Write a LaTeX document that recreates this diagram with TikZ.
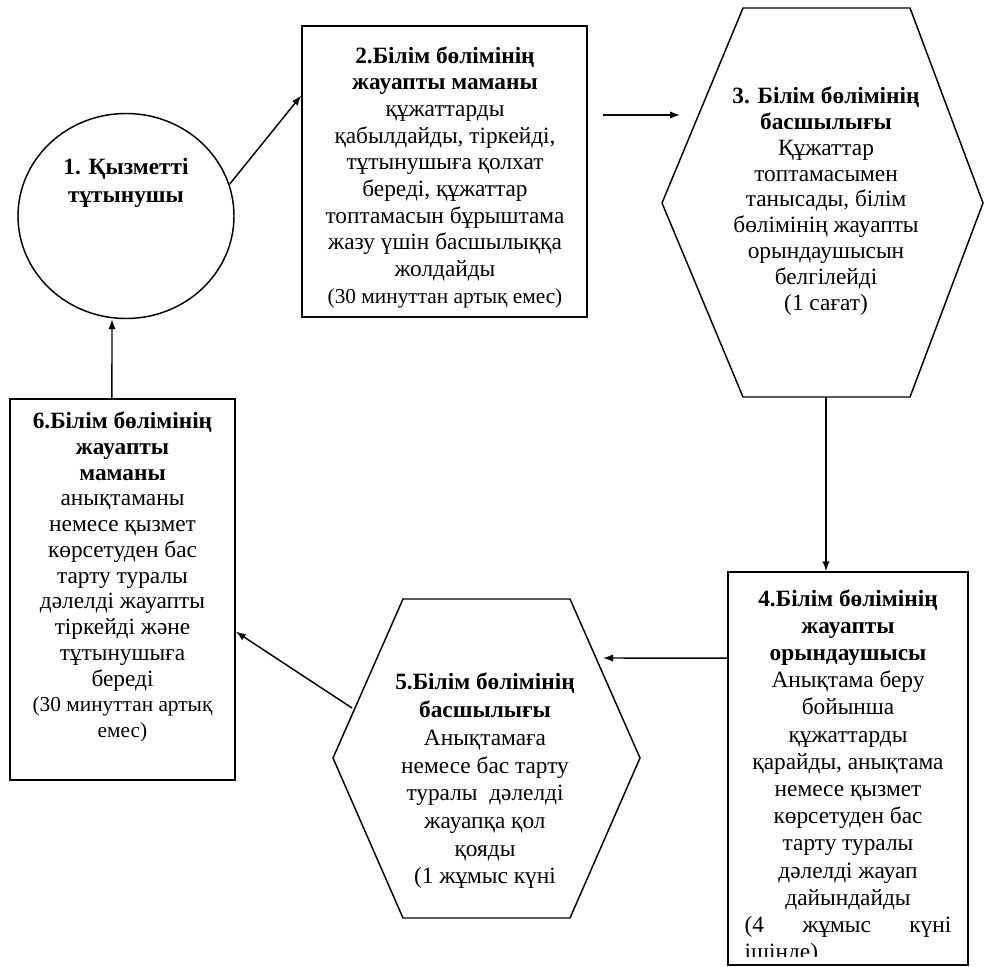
\documentclass[tikz,border=0pt]{standalone}
\usepackage{fontspec}
\setmainfont{Liberation Serif}
\usetikzlibrary{shapes.geometric,calc,arrows.meta}
\newcommand\notefont{\fontsize{16}{18}\selectfont}

\begin{document}
\begin{tikzpicture}[x=0.75pt, y=-0.75pt,
        shapeline/.style = {draw=black, line width=1.1pt},
        arrowline/.style = {draw=black, line width=1.1pt, -{Latex[length=7.5pt, width=5.5pt]}},
        stepbox/.style = {shapeline, rectangle, inner sep=0pt},
        steptext/.style = {align=center, inner sep=0pt, font=\fontsize{17.5}{20}\selectfont}]
        \useasboundingbox (0, 0) rectangle (987, 966);

        \node[shapeline, ellipse, minimum width=162pt, minimum height=153.75pt] (c1) at (126, 216) {};
        \node[stepbox, minimum width=213.75pt, minimum height=218.25pt] (b2) at (444.5, 171.5) {};
        \node[stepbox, minimum width=180pt, minimum height=294.75pt] (b4) at (848, 768.5) {};
        \node[stepbox, minimum width=168.75pt, minimum height=285.75pt] (b6) at (122.5, 589.5) {};
        \draw[shapeline] (662, 203) -- (743, 8) -- (910, 8) -- (983, 203) -- (910, 397) -- (743, 397) -- cycle;
        \draw[shapeline] (333, 758) -- (403, 599) -- (570, 599) -- (640, 758) -- (570, 918) -- (403, 918) -- cycle;

        \node[steptext, font=\fontsize{17.5}{21}\selectfont\bfseries] (t1) at (126, 183) {1. Қызметті\\тұтынушы};
        \node[steptext] (t2) at (445, 177) {\textbf{2.Білім бөлімінің}\\
            \textbf{жауапты маманы}\\
            құжаттарды\\
            қабылдайды, тіркейді,\\
            тұтынушыға қолхат\\
            береді, құжаттар\\
            топтамасын бұрыштама\\
            жазу үшін басшылыққа\\
            жолдайды\\
            {\notefont (30 минуттан артық емес)}};
        \node[steptext, font=\fontsize{17.5}{19.4}\selectfont] (t3) at (826, 201) {\textbf{3. Білім бөлімінің}\\
            \textbf{басшылығы}\\
            Құжаттар\\
            топтамасымен\\
            танысады, білім\\
            бөлімінің жауапты\\
            орындаушысын\\
            белгілейді\\
            (1 сағат)};
        \begin{scope}
            \clip (728, 572) rectangle (968, 956);
            \node[steptext, font=\fontsize{17.5}{20.4}\selectfont] (t4) at (848, 777) {\textbf{4.Білім бөлімінің}\\
                \textbf{жауапты}\\
                \textbf{орындаушысы}\\
                Анықтама беру\\
                бойынша\\
                құжаттарды\\
                қарайды, анықтама\\
                немесе қызмет\\
                көрсетуден бас\\
                тарту туралы\\
                дәлелді жауап\\
                дайындайды\\
                \makebox[155pt][s]{(4 жұмыс күні}\\
                \makebox[155pt][l]{ішінде)}};
        \end{scope}
        \node[steptext, font=\fontsize{17.5}{20.8}\selectfont] (t5) at (485, 781) {\textbf{5.Білім бөлімінің}\\
            \textbf{басшылығы}\\
            Анықтамаға\\
            немесе бас тарту\\
            туралы\ \ дәлелді\\
            жауапқа қол\\
            қояды\\
            (1 жұмыс күні};
        \node[steptext, font=\fontsize{17.5}{19.3}\selectfont] (t6) at (122.5, 577) {\textbf{6.Білім бөлімінің}\\
            \textbf{жауапты}\\
            \textbf{маманы}\\
            анықтаманы\\
            немесе қызмет\\
            көрсетуден бас\\
            тарту туралы\\
            дәлелді жауапты\\
            тіркейді және\\
            тұтынушыға\\
            береді\\
            {\notefont (30 минуттан артық}\\
            {\notefont емес)}};

        \coordinate (a2) at (603, 115);
        \coordinate (a3) at (680, 115);
        \coordinate (h3s) at (826, 397);
        \coordinate (a5) at (603, 658);
        \coordinate (h5w) at (352, 708);
        \draw[arrowline] (c1.17) -- ($(b2.north west)!0.24!(b2.south west)$);
        \draw[arrowline] (a2) -- (a3);
        \draw[arrowline] (h3s) -- (h3s |- b4.north);
        \draw[arrowline] ($(b4.north west)!0.22!(b4.south west)$) -- (a5);
        \draw[arrowline] (h5w) -- ($(b6.north east)!0.61!(b6.south east)$);
        \draw[arrowline] ([xshift=-7.9pt]b6.north) -- ([xshift=-10.5pt]c1.south);
    \end{tikzpicture}
\end{document}
